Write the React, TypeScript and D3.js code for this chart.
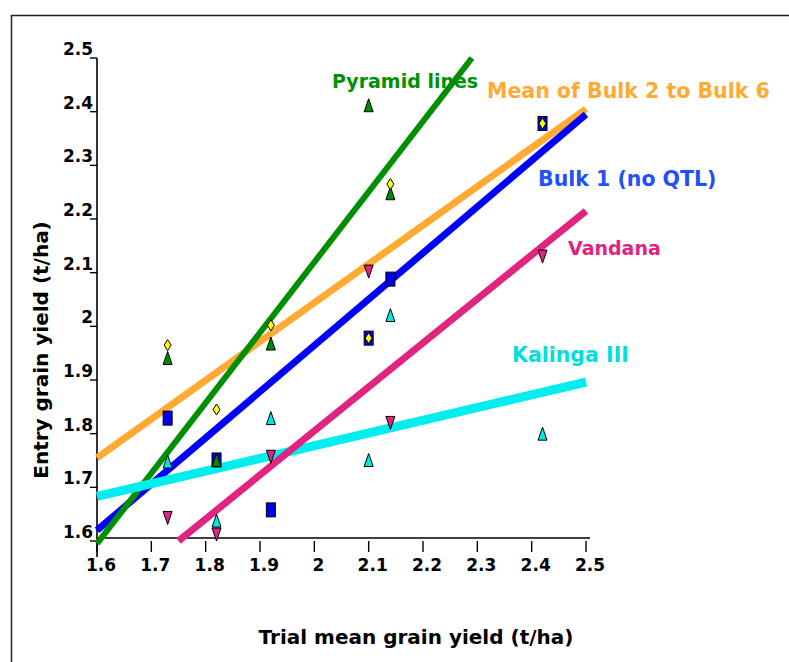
import * as d3 from "d3";

// trial means (x) and entry yields (y), t/ha
const trialMeans = [1.73, 1.82, 1.92, 2.1, 2.14, 2.42];
const pyramidYield = [1.941, 1.751, 1.968, 2.412, 2.248, null];
const bulkMeanYield = [1.965, 1.845, 2.002, 1.978, 2.265, 2.378];
const bulk1Yield = [1.829, 1.751, 1.658, 1.978, 2.088, 2.378];
const vandanaYield = [1.643, 1.612, 1.757, 2.102, 1.82, 2.13];
const kalingaYield = [1.748, 1.638, 1.829, 1.751, 2.021, 1.8];

// fitted lines, [start, end] in data units
const pyramidFit = [[1.6, 1.595], [2.29, 2.5]];
const bulkMeanFit = [[1.6, 1.755], [2.5, 2.405]];
const bulk1Fit = [[1.6, 1.62], [2.5, 2.395]];
const vandanaFit = [[1.75, 1.6], [2.5, 2.215]];
const kalingaFit = [[1.6, 1.683], [2.5, 1.896]];

const xTicks = [1.6, 1.7, 1.8, 1.9, 2, 2.1, 2.2, 2.3, 2.4, 2.5];
const yTicks = [1.6, 1.7, 1.8, 1.9, 2, 2.1, 2.2, 2.3, 2.4, 2.5];

const W = 789;
const H = 662;
const FONT = "'Comic Sans MS', 'DejaVu Sans', sans-serif";

const x = d3.scaleLinear().domain([1.6, 2.5]).range([97, 586]);
const y = d3.scaleLinear().domain([1.6, 2.5]).range([541, 58]);

const line = d3
  .line<number[]>()
  .x((d) => x(d[0]))
  .y((d) => y(d[1]));

function triUp(cx: number, cy: number, w = 9, h = 13) {
  return `M${cx},${cy - h / 2}L${cx + w / 2},${cy + h / 2}L${cx - w / 2},${cy + h / 2}Z`;
}
function triDown(cx: number, cy: number, w = 9, h = 13) {
  return `M${cx - w / 2},${cy - h / 2}L${cx + w / 2},${cy - h / 2}L${cx},${cy + h / 2}Z`;
}
function diamond(cx: number, cy: number, w = 7, h = 11) {
  return `M${cx},${cy - h / 2}L${cx + w / 2},${cy}L${cx},${cy + h / 2}L${cx - w / 2},${cy}Z`;
}

export default function App() {
  const fits = [
    { pts: bulkMeanFit, color: "#ffaa33", w: 7 },
    { pts: bulk1Fit, color: "#0000ff", w: 7 },
    { pts: pyramidFit, color: "#008f00", w: 6 },
    { pts: kalingaFit, color: "#00eeee", w: 9 },
    { pts: vandanaFit, color: "#e0247f", w: 7 },
  ];

  const labels = [
    { text: "Pyramid lines", x: 332, y: 88, color: "#009100", size: 19 },
    { text: "Mean of Bulk 2 to Bulk 6", x: 487, y: 98, color: "#ffaa33", size: 20.5 },
    { text: "Bulk 1 (no QTL)", x: 538, y: 186, color: "#1f4fff", size: 20.5 },
    { text: "Vandana", x: 568, y: 255, color: "#e0247f", size: 19 },
    { text: "Kalinga III", x: 512, y: 362, color: "#00dede", size: 20.5 },
  ];

  return (
    <svg
      width={W}
      height={H}
      viewBox={`0 0 ${W} ${H}`}
      style={{ position: "absolute", left: 0, top: 0, display: "block", background: "#fff" }}
    >
      {/* frame */}
      <path d={`M11.5,${H + 2}V15.5H${W + 2}`} fill="none" stroke="#222" strokeWidth={1.5} />

      {/* axes */}
      <line x1={97} x2={97} y1={58} y2={557} stroke="#000" strokeWidth={1.6} />
      <line x1={97} x2={590} y1={538} y2={538} stroke="#000" strokeWidth={1.6} />
      {yTicks.map((t) => (
        <g key={"y" + t}>
          <line x1={90} x2={97} y1={y(t)} y2={y(t)} stroke="#000" strokeWidth={1.4} />
          <text
            x={93}
            y={y(t) - 9}
            textAnchor="end"
            dominantBaseline="central"
            fontFamily={FONT}
            fontWeight="bold"
            fontSize={17}
          >
            {String(t)}
          </text>
        </g>
      ))}
      {xTicks.map((t) => (
        <g key={"x" + t}>
          <line x1={x(t)} x2={x(t)} y1={541} y2={552} stroke="#000" strokeWidth={1.4} />
          <text
            x={x(t) + 4}
            y={565}
            textAnchor="middle"
            dominantBaseline="central"
            fontFamily={FONT}
            fontWeight="bold"
            fontSize={17}
          >
            {String(t)}
          </text>
        </g>
      ))}

      {/* fitted lines */}
      {fits.map((f, i) => (
        <path key={i} d={line(f.pts) || ""} fill="none" stroke={f.color} strokeWidth={f.w} />
      ))}

      {/* observations */}
      {trialMeans.map((m, i) => (
        <path
          key={"v" + i}
          d={triDown(x(m), y(vandanaYield[i]))}
          fill="#e0247f"
          stroke="#000"
          strokeWidth={1}
        />
      ))}
      {trialMeans.map((m, i) => (
        <path
          key={"k" + i}
          d={triUp(x(m), y(kalingaYield[i]))}
          fill="#00e5e5"
          stroke="#000"
          strokeWidth={1}
        />
      ))}
      {trialMeans.map((m, i) => (
        <rect
          key={"b" + i}
          x={x(m) - 4.5}
          y={y(bulk1Yield[i]) - 7}
          width={9}
          height={14}
          fill="#0000ee"
          stroke="#000"
          strokeWidth={1}
        />
      ))}
      {trialMeans.map((m, i) =>
        pyramidYield[i] == null ? null : (
          <path
            key={"p" + i}
            d={triUp(x(m), y(pyramidYield[i] as number))}
            fill="#008a00"
            stroke="#000"
            strokeWidth={1}
          />
        )
      )}
      {trialMeans.map((m, i) => (
        <path
          key={"m" + i}
          d={diamond(x(m), y(bulkMeanYield[i]))}
          fill="#ffff00"
          stroke="#000"
          strokeWidth={1}
        />
      ))}

      {/* series labels */}
      {labels.map((l) => (
        <text
          key={l.text}
          x={l.x}
          y={l.y}
          fill={l.color}
          fontFamily={FONT}
          fontWeight="bold"
          fontSize={l.size}
        >
          {l.text}
        </text>
      ))}

      {/* axis titles */}
      <text
        transform="translate(41,350) rotate(-90)"
        textAnchor="middle"
        dominantBaseline="central"
        fontFamily={FONT}
        fontWeight="bold"
        fontSize={20}
      >
        Entry grain yield (t/ha)
      </text>
      <text
        x={416}
        y={637}
        textAnchor="middle"
        dominantBaseline="central"
        fontFamily={FONT}
        fontWeight="bold"
        fontSize={20}
      >
        Trial mean grain yield (t/ha)
      </text>
    </svg>
  );
}
